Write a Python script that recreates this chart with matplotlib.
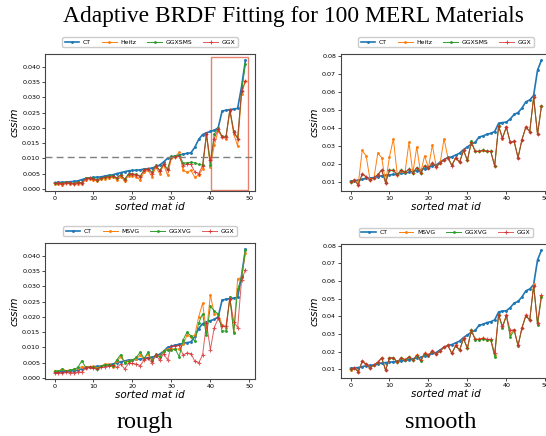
import matplotlib
matplotlib.use("Agg")
import matplotlib.pyplot as plt
from matplotlib.patches import Rectangle

mat_id = list(range(50))

# rough materials
ct_rough = [0.0020, 0.0021, 0.0021, 0.0022, 0.0023, 0.0024, 0.0026, 0.0030, 0.0034, 0.0036,
            0.0037, 0.0038, 0.0039, 0.0042, 0.0044, 0.0046, 0.0050, 0.0053, 0.0056, 0.0059,
            0.0060, 0.0061, 0.0062, 0.0065, 0.0066, 0.0068, 0.0072, 0.0078, 0.0088, 0.0100,
            0.0104, 0.0108, 0.0110, 0.0114, 0.0116, 0.0118, 0.0136, 0.0162, 0.0178, 0.0184,
            0.0188, 0.0192, 0.0200, 0.0255, 0.0258, 0.0260, 0.0262, 0.0264, 0.0335, 0.0422]
ggx_rough = [0.0018, 0.0018, 0.0017, 0.0020, 0.0018, 0.0017, 0.0020, 0.0019, 0.0033, 0.0035,
             0.0033, 0.0028, 0.0035, 0.0037, 0.0040, 0.0042, 0.0035, 0.0045, 0.0030, 0.0048,
             0.0048, 0.0045, 0.0040, 0.0060, 0.0065, 0.0050, 0.0075, 0.0058, 0.0080, 0.0060,
             0.0105, 0.0105, 0.0108, 0.0075, 0.0082, 0.0080, 0.0055, 0.0050, 0.0075, 0.0180,
             0.0093, 0.0165, 0.0195, 0.0170, 0.0170, 0.0260, 0.0185, 0.0165, 0.0320, 0.0355]
heitz_rough = [0.0016, 0.0016, 0.0013, 0.0018, 0.0016, 0.0015, 0.0017, 0.0015, 0.0030, 0.0033,
               0.0028, 0.0026, 0.0031, 0.0033, 0.0036, 0.0038, 0.0030, 0.0040, 0.0025, 0.0043,
               0.0043, 0.0040, 0.0028, 0.0055, 0.0060, 0.0040, 0.0070, 0.0050, 0.0078, 0.0045,
               0.0100, 0.0105, 0.0120, 0.0060, 0.0055, 0.0060, 0.0038, 0.0045, 0.0065, 0.0175,
               0.0070, 0.0143, 0.0190, 0.0170, 0.0165, 0.0255, 0.0180, 0.0140, 0.0310, 0.0355]
ggxsms_rough = [0.0018, 0.0019, 0.0018, 0.0021, 0.0019, 0.0018, 0.0021, 0.0020, 0.0034, 0.0036,
                0.0034, 0.0029, 0.0036, 0.0038, 0.0041, 0.0043, 0.0036, 0.0046, 0.0032, 0.0049,
                0.0049, 0.0047, 0.0042, 0.0062, 0.0066, 0.0055, 0.0077, 0.0060, 0.0082, 0.0065,
                0.0106, 0.0106, 0.0110, 0.0085, 0.0085, 0.0087, 0.0085, 0.0080, 0.0078, 0.0180,
                0.0078, 0.0180, 0.0198, 0.0172, 0.0172, 0.0260, 0.0190, 0.0165, 0.0320, 0.0410]
msvg_rough = [0.0022, 0.0023, 0.0030, 0.0024, 0.0027, 0.0029, 0.0032, 0.0037, 0.0036, 0.0037,
              0.0038, 0.0032, 0.0040, 0.0046, 0.0045, 0.0035, 0.0055, 0.0070, 0.0052, 0.0057,
              0.0060, 0.0063, 0.0075, 0.0062, 0.0080, 0.0058, 0.0075, 0.0070, 0.0090, 0.0095,
              0.0095, 0.0095, 0.0095, 0.0110, 0.0140, 0.0135, 0.0140, 0.0200, 0.0245, 0.0150,
              0.0272, 0.0210, 0.0210, 0.0175, 0.0165, 0.0265, 0.0150, 0.0325, 0.0330, 0.0410]
ggxvg_rough = [0.0022, 0.0022, 0.0028, 0.0023, 0.0026, 0.0028, 0.0035, 0.0057, 0.0035, 0.0036,
               0.0036, 0.0030, 0.0038, 0.0044, 0.0044, 0.0040, 0.0060, 0.0077, 0.0050, 0.0055,
               0.0058, 0.0068, 0.0085, 0.0064, 0.0085, 0.0055, 0.0078, 0.0068, 0.0088, 0.0092,
               0.0092, 0.0094, 0.0070, 0.0125, 0.0150, 0.0138, 0.0120, 0.0180, 0.0210, 0.0140,
               0.0235, 0.0220, 0.0210, 0.0155, 0.0153, 0.0265, 0.0148, 0.0290, 0.0330, 0.0418]

# smooth materials
ct_smooth = [0.0105, 0.0108, 0.0110, 0.0115, 0.0120, 0.0122, 0.0125, 0.0130, 0.0135, 0.0138,
             0.0140, 0.0142, 0.0145, 0.0148, 0.0150, 0.0155, 0.0160, 0.0163, 0.0168, 0.0175,
             0.0180, 0.0190, 0.0195, 0.0210, 0.0225, 0.0235, 0.0240, 0.0250, 0.0260, 0.0280,
             0.0295, 0.0310, 0.0320, 0.0350, 0.0355, 0.0365, 0.0370, 0.0380, 0.0425, 0.0430,
             0.0432, 0.0450, 0.0475, 0.0485, 0.0510, 0.0545, 0.0555, 0.0580, 0.0720, 0.0775]
ggx_smooth = [0.0100, 0.0110, 0.0085, 0.0145, 0.0130, 0.0110, 0.0125, 0.0140, 0.0165, 0.0095,
              0.0165, 0.0165, 0.0140, 0.0165, 0.0155, 0.0170, 0.0150, 0.0180, 0.0150, 0.0190,
              0.0180, 0.0205, 0.0185, 0.0205, 0.0225, 0.0235, 0.0190, 0.0235, 0.0210, 0.0275,
              0.0220, 0.0320, 0.0270, 0.0270, 0.0275, 0.0270, 0.0270, 0.0190, 0.0410, 0.0345,
              0.0405, 0.0320, 0.0325, 0.0235, 0.0335, 0.0405, 0.0380, 0.0570, 0.0365, 0.0520]
heitz_smooth = [0.0100, 0.0110, 0.0090, 0.0275, 0.0245, 0.0115, 0.0120, 0.0260, 0.0235, 0.0100,
                0.0240, 0.0340, 0.0140, 0.0160, 0.0155, 0.0320, 0.0150, 0.0295, 0.0150, 0.0245,
                0.0180, 0.0305, 0.0185, 0.0205, 0.0340, 0.0235, 0.0195, 0.0235, 0.0210, 0.0275,
                0.0220, 0.0320, 0.0270, 0.0270, 0.0275, 0.0270, 0.0270, 0.0190, 0.0410, 0.0340,
                0.0405, 0.0320, 0.0325, 0.0235, 0.0335, 0.0405, 0.0380, 0.0570, 0.0365, 0.0520]
ggxsms_smooth = [0.0100, 0.0110, 0.0085, 0.0145, 0.0130, 0.0112, 0.0125, 0.0142, 0.0168, 0.0097,
                 0.0165, 0.0165, 0.0142, 0.0167, 0.0155, 0.0170, 0.0152, 0.0180, 0.0152, 0.0190,
                 0.0180, 0.0205, 0.0187, 0.0205, 0.0225, 0.0237, 0.0192, 0.0235, 0.0212, 0.0277,
                 0.0220, 0.0325, 0.0270, 0.0270, 0.0277, 0.0270, 0.0270, 0.0190, 0.0410, 0.0345,
                 0.0405, 0.0320, 0.0325, 0.0235, 0.0335, 0.0405, 0.0380, 0.0570, 0.0365, 0.0520]
msvg_smooth = [0.0098, 0.0110, 0.0086, 0.0145, 0.0130, 0.0108, 0.0125, 0.0140, 0.0165, 0.0097,
               0.0165, 0.0166, 0.0140, 0.0165, 0.0155, 0.0170, 0.0152, 0.0180, 0.0150, 0.0190,
               0.0180, 0.0205, 0.0185, 0.0205, 0.0225, 0.0237, 0.0190, 0.0235, 0.0210, 0.0275,
               0.0220, 0.0325, 0.0270, 0.0270, 0.0275, 0.0268, 0.0268, 0.0180, 0.0410, 0.0340,
               0.0405, 0.0300, 0.0325, 0.0235, 0.0335, 0.0405, 0.0380, 0.0585, 0.0360, 0.0515]
ggxvg_smooth = [0.0100, 0.0108, 0.0085, 0.0145, 0.0128, 0.0105, 0.0125, 0.0138, 0.0163, 0.0095,
                0.0163, 0.0165, 0.0140, 0.0163, 0.0153, 0.0168, 0.0150, 0.0178, 0.0148, 0.0188,
                0.0178, 0.0203, 0.0185, 0.0203, 0.0225, 0.0235, 0.0190, 0.0233, 0.0208, 0.0273,
                0.0218, 0.0320, 0.0268, 0.0268, 0.0273, 0.0265, 0.0265, 0.0172, 0.0408, 0.0335,
                0.0403, 0.0285, 0.0320, 0.0232, 0.0333, 0.0403, 0.0378, 0.0575, 0.0350, 0.0510]

thresh = 0.0104
box_x = (40.2, 49.6)

fig = plt.figure(figsize=(5.46, 4.36), dpi=100)

serif = ["Liberation Serif", "DejaVu Serif"]
fig.text(0.537, 0.962, "Adaptive BRDF Fitting for 100 MERL Materials",
         ha="center", va="center", fontsize=16.9, family=serif)


def panel(rect, series):
    ax = fig.add_axes(rect)
    for y, lab, col, lw, mk, al in series:
        ax.plot(mat_id, y, label=lab, color=col, lw=lw, marker=mk, ms=2.5,
                mew=0.8, alpha=al)
    ax.set_xlabel("sorted mat id", fontsize=7.5, fontstyle="italic", labelpad=1)
    ax.set_ylabel("cssim", fontsize=7.5, fontstyle="italic", labelpad=2)
    ax.tick_params(labelsize=4.6, length=2, width=0.5, pad=1.5)
    ax.set_xticks([0, 10, 20, 30, 40, 50])
    for s in ax.spines.values():
        s.set_linewidth(0.8)
        s.set_color("#444444")
    ax.legend(loc="lower center", bbox_to_anchor=(0.5, 1.03), ncol=4,
              fontsize=4.4, handlelength=2.4, columnspacing=1.8,
              borderpad=0.35, handletextpad=0.6, framealpha=1)
    return ax


rough_sms = [
    (ct_rough, "CT", "tab:blue", 1.2, ".", 1.0),
    (heitz_rough, "Heitz", "tab:orange", 0.7, ".", 1.0),
    (ggxsms_rough, "GGXSMS", "tab:green", 0.7, ".", 1.0),
    (ggx_rough, "GGX", "tab:red", 0.7, "+", 0.75),
]
smooth_sms = [
    (ct_smooth, "CT", "tab:blue", 1.2, ".", 1.0),
    (heitz_smooth, "Heitz", "tab:orange", 0.7, ".", 1.0),
    (ggxsms_smooth, "GGXSMS", "tab:green", 0.7, ".", 1.0),
    (ggx_smooth, "GGX", "tab:red", 0.7, "+", 0.75),
]
rough_vg = [
    (ct_rough, "CT", "tab:blue", 1.2, ".", 1.0),
    (msvg_rough, "MSVG", "tab:orange", 0.7, ".", 1.0),
    (ggxvg_rough, "GGXVG", "tab:green", 0.7, ".", 1.0),
    (ggx_rough, "GGX", "tab:red", 0.7, "+", 0.75),
]
smooth_vg = [
    (ct_smooth, "CT", "tab:blue", 1.2, ".", 1.0),
    (msvg_smooth, "MSVG", "tab:orange", 0.7, ".", 1.0),
    (ggxvg_smooth, "GGXVG", "tab:green", 0.7, ".", 1.0),
    (ggx_smooth, "GGX", "tab:red", 0.7, "+", 0.75),
]

ax1 = panel([0.0824, 0.5619, 0.3846, 0.3142], rough_sms)
ax1.axhline(thresh, ls="--", color="gray", lw=1.0, dashes=(5, 3))
y0, y1 = ax1.get_ylim()
ax1.add_patch(Rectangle((box_x[0], y0 + 0.0003), box_x[1] - box_x[0], y1 - y0 - 0.0012,
                        fill=False, edgecolor="#e8806f", lw=1.0))
ax1.set_ylim(y0, y1)

panel([0.6245, 0.5619, 0.3846, 0.3142], smooth_sms)
panel([0.0824, 0.1307, 0.3846, 0.3120], rough_vg)
panel([0.6245, 0.1330, 0.3846, 0.3070], smooth_vg)

fig.text(0.2656, 0.032, "rough", ha="center", va="center", fontsize=17.5, family=serif)
fig.text(0.808, 0.032, "smooth", ha="center", va="center", fontsize=17.5, family=serif)

fig.savefig("out.png", dpi=100)
